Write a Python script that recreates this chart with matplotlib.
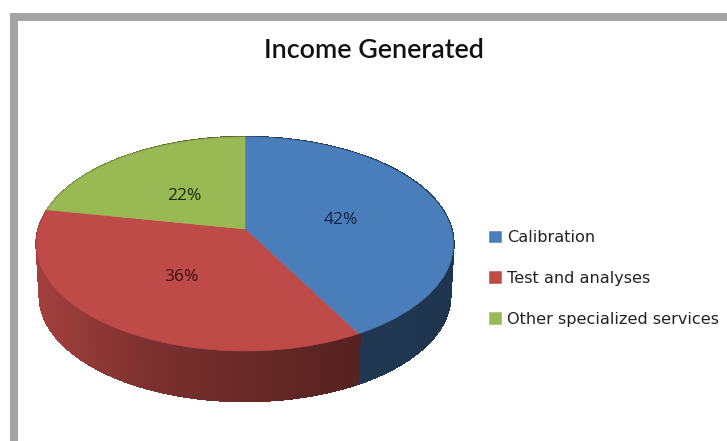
import numpy as np
import matplotlib
matplotlib.use("Agg")
import matplotlib.pyplot as plt
from matplotlib.transforms import Transform
from matplotlib.patches import Rectangle
from matplotlib.collections import PolyCollection, LineCollection

title = "Income Generated"
categories = ["Calibration", "Test and analyses", "Other specialized services"]
values = [42, 36, 22]
colors = ["#4A7EBB", "#BE4B48", "#98B954"]
label_pos = [(341, 220), (181, 277), (184, 196)]
label_colors = ["#0f2440", "#3a1010", "#1e2a0a"]

# perspective set-up of the tilted pie, in pixels
CX, CY, A, B, P = 245.0, 229.0, 206.4, 104.9, 0.14
DEPTH, SHRINK = 52.0, 0.985


class Persp(Transform):
    input_dims = output_dims = 2
    is_separable = False
    has_inverse = False

    def __init__(self, scale=1.0, drop=0.0):
        super().__init__()
        self.scale, self.drop = scale, drop

    def transform_non_affine(self, xy):
        xy = np.asarray(xy, float)
        w = 1 + P * xy[:, 1]
        return np.column_stack([CX + self.scale * A * xy[:, 0] / w,
                                CY + self.drop - self.scale * B * xy[:, 1] / w])


fig = plt.figure(figsize=(7.27, 4.41), dpi=100, facecolor="white")
ax = fig.add_axes([0, 0, 1, 1])
wedges, _ = ax.pie(values, colors=colors, startangle=90, counterclock=False,
                   wedgeprops=dict(linewidth=0.4, zorder=3))
for w, c in zip(wedges, colors):
    w.set_edgecolor(c)
    w.set_transform(Persp() + ax.transData)
ax.set_aspect("auto")
ax.set_xlim(0, 727)
ax.set_ylim(441, 0)
ax.axis("off")

# side wall
top, bottom = Persp(), Persp(SHRINK, DEPTH)
shade_x = [40, 150, 250, 360, 450]
shade_f = [0.85, 0.65, 0.55, 0.45, 0.42]
quads, quad_colors, rim = [], [], []
for w, c in zip(wedges, colors):
    t = np.radians(np.arange(w.theta1, w.theta2 + 0.5, 0.5))
    ring = np.column_stack([np.cos(t), np.sin(t)])
    up, lo = top.transform(ring), bottom.transform(ring)
    base = np.array(matplotlib.colors.to_rgb(c))
    for i in range(len(t) - 1):
        quads.append([up[i], up[i + 1], lo[i + 1], lo[i]])
        rim.append([lo[i], lo[i + 1]])
        f = np.interp((up[i, 0] + up[i + 1, 0]) / 2, shade_x, shade_f)
        quad_colors.append(base * f)
ax.add_collection(PolyCollection(quads, facecolors=quad_colors,
                                 edgecolors=quad_colors, linewidths=1.0,
                                 antialiaseds=False, zorder=2))
ax.add_collection(LineCollection(rim, colors=quad_colors, linewidths=1.2,
                                 antialiaseds=True, zorder=2.5))

# frame of the screenshot
frame = "#A3A3A3"
ax.add_patch(Rectangle((10, 13), 717, 8, color=frame, lw=0, zorder=5))
ax.add_patch(Rectangle((10, 13), 8, 428, color=frame, lw=0, zorder=5))

ax.text(374, 51, title, ha="center", va="center", fontsize=19.4,
        family="Lato", color="#111111", fontweight="semibold")

for v, (x, y), c in zip(values, label_pos, label_colors):
    ax.text(x, y, f"{v}%", ha="center", va="center", fontsize=12.5,
            family="Open Sans", color=c, zorder=6)

leg = ax.legend(wedges, categories, loc="upper left",
                bbox_to_anchor=(489 / 727, 1 - 230 / 441), frameon=False,
                prop=dict(family="DejaVu Sans", size=11.6), handlelength=0.74,
                handleheight=0.74, handletextpad=0.4, labelspacing=1.6,
                borderpad=0, borderaxespad=0)
for t in leg.get_texts():
    t.set_color("#222222")

fig.savefig("out.png", dpi=100)
